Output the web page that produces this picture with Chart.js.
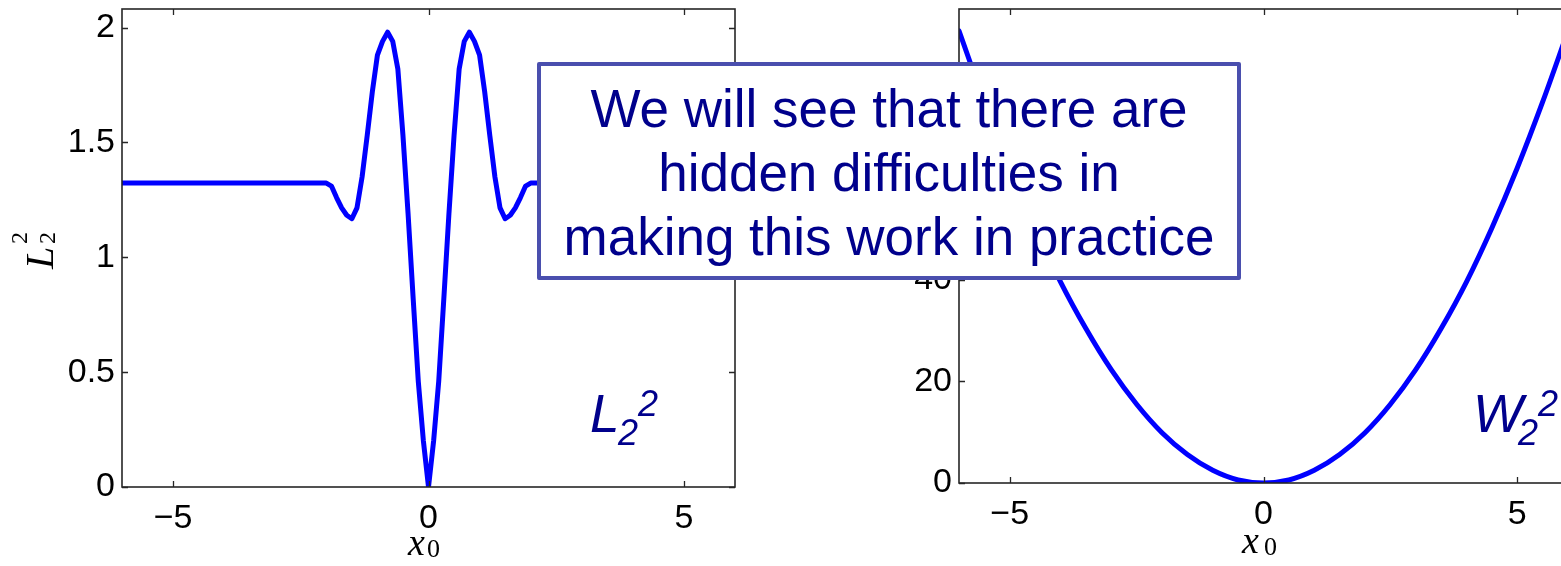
<!DOCTYPE html>
<html>
<head>
<meta charset="utf-8">
<script src="https://cdn.jsdelivr.net/npm/chart.js@4"></script>
<style>
  html, body { margin: 0; padding: 0; background: #fff; }
  body { width: 1561px; height: 566px; position: relative; overflow: hidden; }
  canvas { position: absolute; top: 0; }
  .t { position: absolute; white-space: nowrap; }
  .serif { font-family: "Liberation Serif", "DejaVu Serif", serif; font-style: italic; }
  .sans { font-family: "Liberation Sans", Arial, sans-serif; color: #00008c; }
  #note {
    position: absolute; left: 537px; top: 62px; width: 704px; height: 218px;
    box-sizing: border-box; border: 4.5px solid #4a4fae; border-radius: 2px;
    background: #fff; padding-top: 10.8px;
    font-family: "Liberation Sans", Arial, sans-serif; font-size: 53px; line-height: 64px;
    color: #00008c; text-align: center;
  }
  #ylab { position: absolute; left: 14px; top: 226px; width: 42px; height: 44px; transform: rotate(-90deg); }
</style>
</head>
<body>
<canvas id="l2-chart" width="770" height="566" style="left:0px"></canvas>
<canvas id="w2-chart" width="800" height="566" style="left:840px"></canvas>

<script>
// L2^2 distance as a function of the shift x0
const l2X = [-6, -2.0, -1.9, -1.8, -1.7, -1.6, -1.5, -1.4, -1.3, -1.2, -1.1, -1.0, -0.9, -0.8, -0.7, -0.6, -0.5, -0.4, -0.3, -0.2, -0.1,
  0, 0.1, 0.2, 0.3, 0.4, 0.5, 0.6, 0.7, 0.8, 0.9, 1.0, 1.1, 1.2, 1.3, 1.4, 1.5, 1.6, 1.7, 1.8, 1.9, 2.0, 6];
const l2Y = [1.323, 1.323, 1.31, 1.26, 1.215, 1.183, 1.168, 1.215, 1.35, 1.53, 1.72, 1.88, 1.94, 1.98, 1.94, 1.82, 1.53, 1.19, 0.82, 0.46, 0.20,
  0, 0.20, 0.46, 0.82, 1.19, 1.53, 1.82, 1.94, 1.98, 1.94, 1.88, 1.72, 1.53, 1.35, 1.215, 1.168, 1.183, 1.215, 1.26, 1.31, 1.323, 1.323];

// W2^2 distance for the same shifts
const w2X = [-6, -5.5, -5, -4.5, -4, -3.5, -3, -2.5, -2, -1.5, -1, -0.5, 0, 0.5, 1, 1.5, 2, 2.5, 3, 3.5, 4, 4.5, 5, 5.5, 6];
const w2Y = [89.0, 75.0, 62.0, 50.2, 39.6, 30.4, 22.3, 15.5, 9.9, 5.6, 2.5, 0.6, 0, 0.6, 2.5, 5.6, 9.9, 15.5, 22.3, 30.4, 39.6, 50.2, 62.0, 75.0, 89.0];

const xTicks = [-5, 0, 5];
const l2YTicks = [0, 0.5, 1, 1.5, 2];
const w2YTicks = [0, 20, 40, 60, 80];

const axisColor = '#262626';
const tickFont = { family: '"Liberation Sans", Arial, sans-serif', size: 34 };

// matlab style frame: full box with ticks pointing inwards on all four sides
const boxTicks = {
  id: 'boxTicks',
  afterDraw(chart) {
    const { ctx, chartArea: a, scales } = chart;
    const len = 6;
    ctx.save();
    ctx.strokeStyle = axisColor;
    ctx.lineWidth = 1.3;
    scales.x.ticks.forEach(t => {
      const px = Math.round(scales.x.getPixelForValue(t.value)) + 0.5;
      ctx.beginPath();
      ctx.moveTo(px, a.bottom); ctx.lineTo(px, a.bottom - len);
      ctx.moveTo(px, a.top); ctx.lineTo(px, a.top + len);
      ctx.stroke();
    });
    scales.y.ticks.forEach(t => {
      const py = Math.round(scales.y.getPixelForValue(t.value)) + 0.5;
      ctx.beginPath();
      ctx.moveTo(a.left, py); ctx.lineTo(a.left + len, py);
      ctx.moveTo(a.right, py); ctx.lineTo(a.right - len, py);
      ctx.stroke();
    });
    ctx.lineWidth = 1.6;
    ctx.strokeRect(a.left, a.top, a.right - a.left, a.bottom - a.top);
    ctx.restore();
  }
};

const fmt = v => String(v).replace('-', '\u2212');

function makeChart(id, xs, ys, yTicks, yMax, layout) {
  return new Chart(document.getElementById(id), {
    type: 'line',
    data: {
      datasets: [{
        data: xs.map((x, i) => ({ x: x, y: ys[i] })),
        borderColor: '#0000ff',
        borderWidth: 5,
        borderJoinStyle: 'round',
        borderCapStyle: 'round',
        pointRadius: 0,
        fill: false,
        tension: 0,
        cubicInterpolationMode: layout.smooth ? 'monotone' : 'default'
      }]
    },
    options: {
      responsive: false,
      animation: false,
      events: [],
      layout: { padding: { top: layout.top, right: layout.right, left: 0, bottom: 0 } },
      plugins: { legend: { display: false }, tooltip: { enabled: false } },
      scales: {
        x: {
          type: 'linear', min: -6, max: 6,
          afterBuildTicks: s => { s.ticks = xTicks.map(v => ({ value: v })); },
          afterFit: s => { s.height = layout.xAxisH; s.paddingLeft = 0; s.paddingRight = 0; },
          grid: { display: false, drawTicks: false },
          border: { display: false },
          ticks: { font: tickFont, color: '#000', padding: 11, maxRotation: 0, callback: v => fmt(v) }
        },
        y: {
          type: 'linear', min: 0, max: yMax,
          afterBuildTicks: s => { s.ticks = yTicks.map(v => ({ value: v })); },
          afterFit: s => { s.width = layout.yAxisW; s.paddingTop = 0; s.paddingBottom = 0; },
          grid: { display: false, drawTicks: false },
          border: { display: false },
          ticks: { font: tickFont, color: '#000', padding: 7, callback: v => fmt(v) }
        }
      }
    },
    plugins: [boxTicks]
  });
}

makeChart('l2-chart', l2X, l2Y, l2YTicks, 2.081, { top: 9, right: 35, xAxisH: 79, yAxisW: 122, smooth: false });
makeChart('w2-chart', w2X, w2Y, w2YTicks, 93.3, { top: 9, right: 72, xAxisH: 83, yAxisW: 119, smooth: true });
</script>

<!-- axis titles -->
<div id="ylab">
  <span class="t serif" style="left:0px; top:6.5px; font-size:40px; line-height:40px;">L</span>
  <span class="t serif" style="left:25px; top:-6.1px; font-size:24px; line-height:24px; font-style:normal;">2</span>
  <span class="t serif" style="left:25px; top:21.9px; font-size:24px; line-height:24px; font-style:normal;">2</span>
</div>
<span class="t serif" style="left:408px; top:523px; font-size:38px; line-height:38px;">x</span>
<span class="t serif" style="left:427px; top:536px; font-size:26px; line-height:26px; font-style:normal;">0</span>
<span class="t serif" style="left:1242px; top:521px; font-size:38px; line-height:38px;">x</span>
<span class="t serif" style="left:1264px; top:533.5px; font-size:26px; line-height:26px; font-style:normal;">0</span>

<!-- in-plot labels -->
<span class="t sans" style="left:590px; top:386.8px; font-size:53px; line-height:53px; font-style:italic;">L</span>
<span class="t sans" style="left:618px; top:414.5px; font-size:36px; line-height:36px; font-style:italic;">2</span>
<span class="t sans" style="left:638px; top:386.2px; font-size:36px; line-height:36px; font-style:italic;">2</span>
<span class="t sans" style="left:1473px; top:386.8px; font-size:53px; line-height:53px; font-style:italic;">W</span>
<span class="t sans" style="left:1518px; top:414.5px; font-size:36px; line-height:36px; font-style:italic;">2</span>
<span class="t sans" style="left:1538px; top:386.2px; font-size:36px; line-height:36px; font-style:italic;">2</span>

<div id="note">We will see that there are<br>hidden difficulties in<br>making this work in practice</div>
</body>
</html>
